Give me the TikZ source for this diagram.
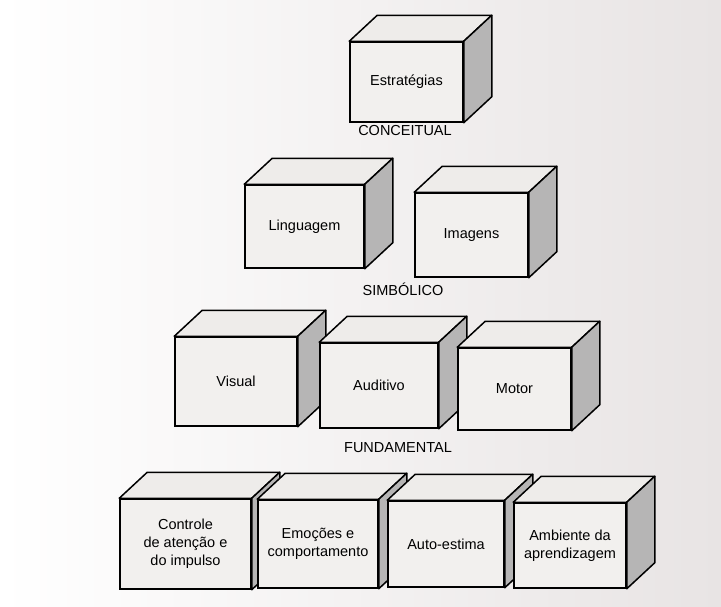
\documentclass[tikz,border=0pt]{standalone}
\usepackage{fontspec}
\setmainfont{Liberation Sans}
\usepackage{tikz}
\usetikzlibrary{positioning}

\definecolor{paper}{RGB}{232,228,228}
\definecolor{facecol}{RGB}{242,240,238}
\definecolor{topcol}{RGB}{238,236,234}
\definecolor{sidecol}{RGB}{182,181,181}

% one cube: name, centre of front face, width, height, text
\newcommand{\cubebox}[5]{%
    \node[front, minimum width=#3, minimum height=#4] (#1) at (#2) {#5};
    \filldraw[topface] (#1.north west) -- ++(28,-26) -- ([shift={(28,-26)}]#1.north east) -- (#1.north east) -- cycle;
    \filldraw[sideface] (#1.north east) -- ++(28,-26) -- ([shift={(28,-26)}]#1.south east) -- (#1.south east) -- cycle;
}

\begin{document}
\begin{tikzpicture}[x=1pt, y=-1pt,
    front/.style = {draw, line width=1.5pt, fill=facecol, align=center, inner sep=0pt, font=\fontsize{14.5}{18}\selectfont},
    topface/.style = {draw, line width=1.5pt, line join=round, fill=topcol},
    sideface/.style = {draw, line width=1.5pt, line join=round, fill=sidecol},
    level/.style = {font=\fontsize{14.5}{17}\selectfont}]
    \useasboundingbox (0,0) rectangle (721,606);
    \shade[left color=white, right color=paper] (0,0) rectangle (721,606);
    % conceitual
    \cubebox{estr}{406.5,82}{113pt}{80pt}{Estratégias}
    \node[level] (conc) at (405,131) {CONCEITUAL};
    % simbolico
    \cubebox{ling}{304.5,226.5}{119pt}{83pt}{Linguagem}
    \cubebox{imag}{471.5,235}{113pt}{84pt}{Imagens}
    \node[level] (simb) at (403,289) {SIMBÓLICO};
    % fundamental
    \cubebox{vis}{236,381.5}{122pt}{89pt}{Visual}
    \cubebox{aud}{379,385.5}{118pt}{85pt}{Auditivo}
    \cubebox{mot}{514.5,389}{113pt}{82pt}{Motor}
    \node[level] (fund) at (398,448) {FUNDAMENTAL};
    % base
    \cubebox{ctrl}{185.5,544}{131pt}{90pt}{Controle\\de atenção e\\do impulso}
    \cubebox{emo}{318,544}{120pt}{88pt}{Emoções e\\comportamento}
    \cubebox{auto}{446,544}{116pt}{86pt}{Auto-estima}
    \cubebox{amb}{570,545.5}{112pt}{85pt}{Ambiente da\\aprendizagem}
\end{tikzpicture}
\end{document}
